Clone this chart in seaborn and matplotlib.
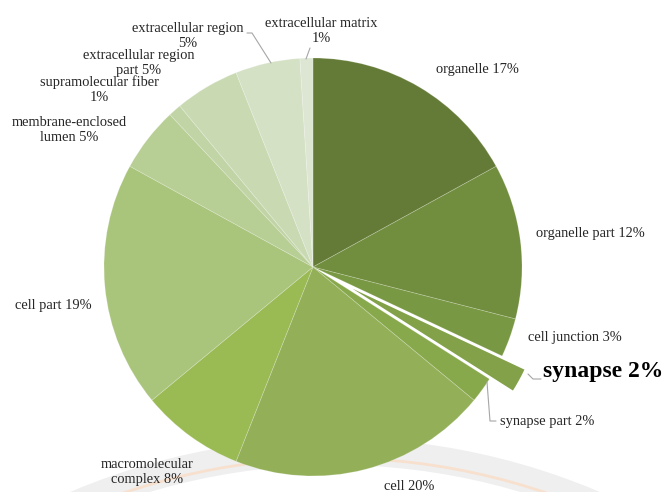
import matplotlib
matplotlib.use("Agg")
import matplotlib.pyplot as plt
import seaborn as sns
from matplotlib.patches import Wedge, Arc

# Gene Ontology cellular-component distribution (percent of annotated genes)
categories = [
    "organelle", "organelle part", "cell junction", "synapse", "synapse part",
    "cell", "macromolecular complex", "cell part", "membrane-enclosed lumen",
    "supramolecular fiber", "extracellular region part", "extracellular region",
    "extracellular matrix",
]
percent = [17, 12, 3, 2, 2, 20, 8, 19, 5, 1, 5, 5, 1]
label_lines = [
    "organelle 17%", "organelle part 12%", "cell junction 3%", "synapse 2%",
    "synapse part 2%", "cell 20%", "macromolecular\ncomplex 8%", "cell part 19%",
    "membrane-enclosed\nlumen 5%", "supramolecular fiber\n1%",
    "extracellular region\npart 5%", "extracellular region\n5%",
    "extracellular matrix\n1%",
]
highlight = "synapse"

slice_colors = [
    "#647b37", "#718d3e", "#799843", "#82a148", "#87a84b", "#93b059",
    "#9aba54", "#a9c47b", "#b7ce94", "#c1d4a5", "#c9dab3", "#d5e1c5",
    "#dde6d2",
]

W, H = 667, 492
sns.set_theme(style="white")
plt.rcParams["font.family"] = ["Liberation Serif", "DejaVu Serif"]

fig = plt.figure(figsize=(W / 100, H / 100), dpi=100)
ax = fig.add_axes([0, 0, 1, 1])

# faint background emblem
wm_center = (335, H - 1115)
ax.add_patch(Wedge(wm_center, 677, 62, 118, width=27, facecolor="#efefef",
                   edgecolor="none", zorder=0))
ax.add_patch(Arc(wm_center, 2 * 657, 2 * 657, theta1=62, theta2=118,
                 color="#f8e0ce", lw=2.0, zorder=0.5))

cx, cy, R = 313, H - 267, 209
explode = [0.13 * R if c == highlight else 0 for c in categories]
wedges, _ = ax.pie(
    percent, colors=sns.color_palette(slice_colors), startangle=90,
    counterclock=False, radius=R, center=(cx, cy), explode=explode,
    wedgeprops=dict(edgecolor=(1, 1, 1, 0.22), linewidth=0.6),
)
for w, c in zip(wedges, categories):
    w.set_zorder(2)
    if c == highlight:
        w.set_edgecolor("white")
        w.set_linewidth(1.6)

# label placement (pixel positions, image rows counted from the top)
label_pos = [
    (477, 70), (590, 234), (575, 337), (603, 372), (547, 421), (409, 486),
    (147, 472), (53, 306), (69, 130), (99, 90), (139, 63), (188, 36),
    (321, 31),
]
for text, cat, (x, y) in zip(label_lines, categories, label_pos):
    bold = cat == highlight
    ax.text(x, H - y, text, ha="center", va="center", multialignment="center",
            fontsize=17 if bold else 10.4, fontweight="bold" if bold else "normal",
            color="black" if bold else "#262626", zorder=5, linespacing=1.2)

leaders = [
    [(306, 59), (310, 48)],
    [(271, 63), (252, 33), (247, 33)],
    [(528, 374), (533, 379), (541, 379)],
    [(487, 382), (490, 421), (496, 421)],
]
for pts in leaders:
    xs = [p[0] for p in pts]
    ys = [H - p[1] for p in pts]
    ax.plot(xs, ys, color="#a6a6a6", lw=0.8, zorder=4)

ax.set_xlim(0, W)
ax.set_ylim(0, H)
ax.set_aspect("equal")
ax.axis("off")
fig.savefig("out.png", dpi=100, facecolor="white")
